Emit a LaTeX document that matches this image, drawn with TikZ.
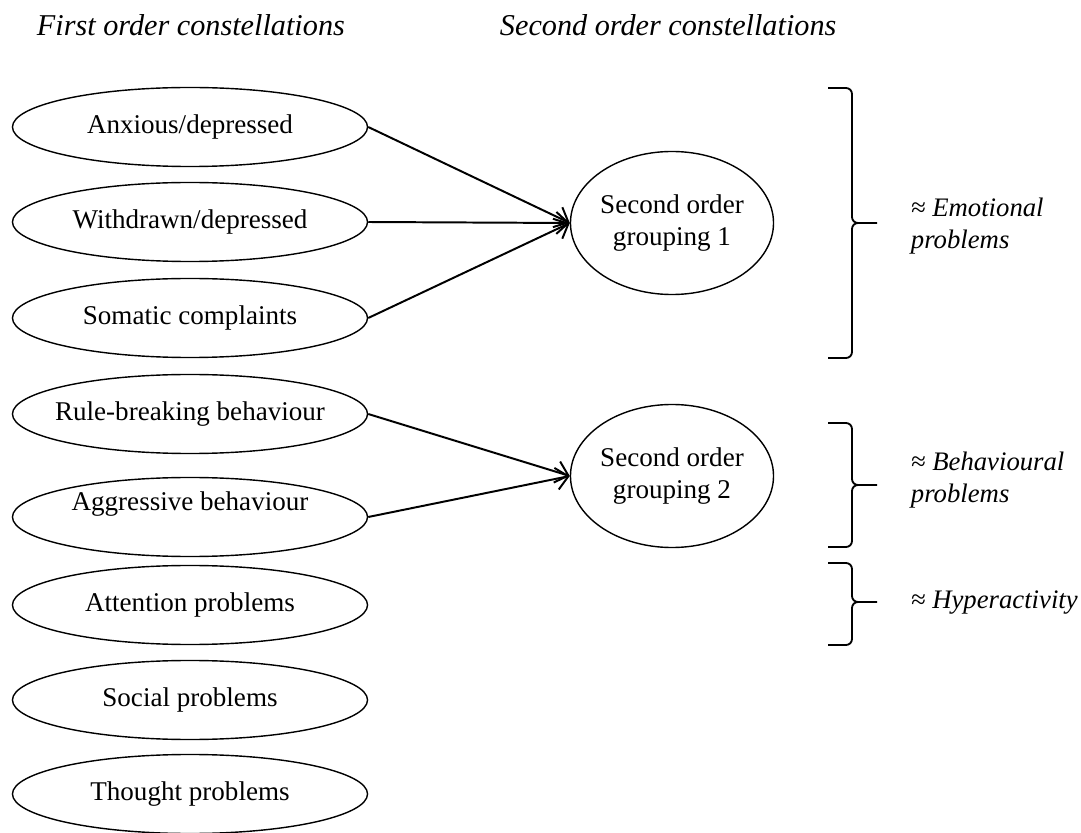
\documentclass[tikz,border=0pt]{standalone}
\usepackage{fontspec}
\setmainfont{Liberation Serif}
\usetikzlibrary{shapes.geometric,arrows.meta}

% right curly brace: top, tip and bottom heights (px)
\newcommand{\groupbrace}[3]{%
  \draw[line width=1.3pt]
    (828,#1) -- (846,#1) to[out=0,in=90] (852,#1+6)
    -- (852,#2-6) to[out=-90,in=180] (858,#2) -- (877,#2)
    (858,#2) to[out=180,in=90] (852,#2+6)
    -- (852,#3-6) to[out=-90,in=0] (846,#3) -- (828,#3);}

\begin{document}
\begin{tikzpicture}[x=0.025cm, y=-0.025cm,
  first/.style={draw, ellipse, line width=1pt, minimum width=8.875cm,
    minimum height=1.975cm, inner sep=0pt, font=\fontsize{19.25}{23}\selectfont},
  second/.style={draw, ellipse, line width=1pt, minimum width=5cm,
    minimum height=3.575cm, inner sep=0pt, align=center,
    font=\fontsize{19.25}{23}\selectfont},
  link/.style={line width=1.4pt, -{Straight Barb[length=0.3cm,width=0.55cm]}},
  heading/.style={anchor=base west, font=\fontsize{21.5}{26}\selectfont\itshape},
  note/.style={anchor=west, align=left, font=\fontsize{19}{23}\selectfont\itshape}]
\useasboundingbox (0,0) rectangle (1081,833);

\node[heading] (h1) at (32,36) {First order constellations};
\node[heading] (h2) at (495,36) {Second order constellations};

% first order
\node[first] (anx) at (190,127) {Anxious/depressed};
\node[first] (wdr) at (190,222) {Withdrawn/depressed};
\node[first] (som) at (190,318) {Somatic complaints};
\node[first] (rule) at (190,414) {\makebox[0pt]{Rule-breaking behaviour}};
\node[first] (aggr) at (190,517) {};
\node[font=\fontsize{19.25}{23}\selectfont] (aggrtext) at (190,504) {Aggressive behaviour};
\node[first] (att) at (190,605) {Attention problems};
\node[first] (soc) at (190,700) {Social problems};
\node[first] (thou) at (190,794) {Thought problems};

% second order
\node[second] (grp1) at (672,223) {Second order\\grouping 1};
\node[second] (grp2) at (672,476) {Second order\\grouping 2};

\draw[link] (anx.east) -- (grp1.west);
\draw[link] (wdr.east) -- (grp1.west);
\draw[link] (som.east) -- (grp1.west);
\draw[link] (rule.east) -- (grp2.west);
\draw[link] (aggr.east) -- (grp2.west);

\groupbrace{88}{223}{358}
\groupbrace{423}{485}{547}
\groupbrace{563}{602}{645}

\node[note] (emo) at (906,226) {≈ Emotional\\problems};
\node[note] (beh) at (906,480) {≈ Behavioural\\problems};
\node[note] (hyp) at (906,603) {≈ Hyperactivity};
\end{tikzpicture}
\end{document}
